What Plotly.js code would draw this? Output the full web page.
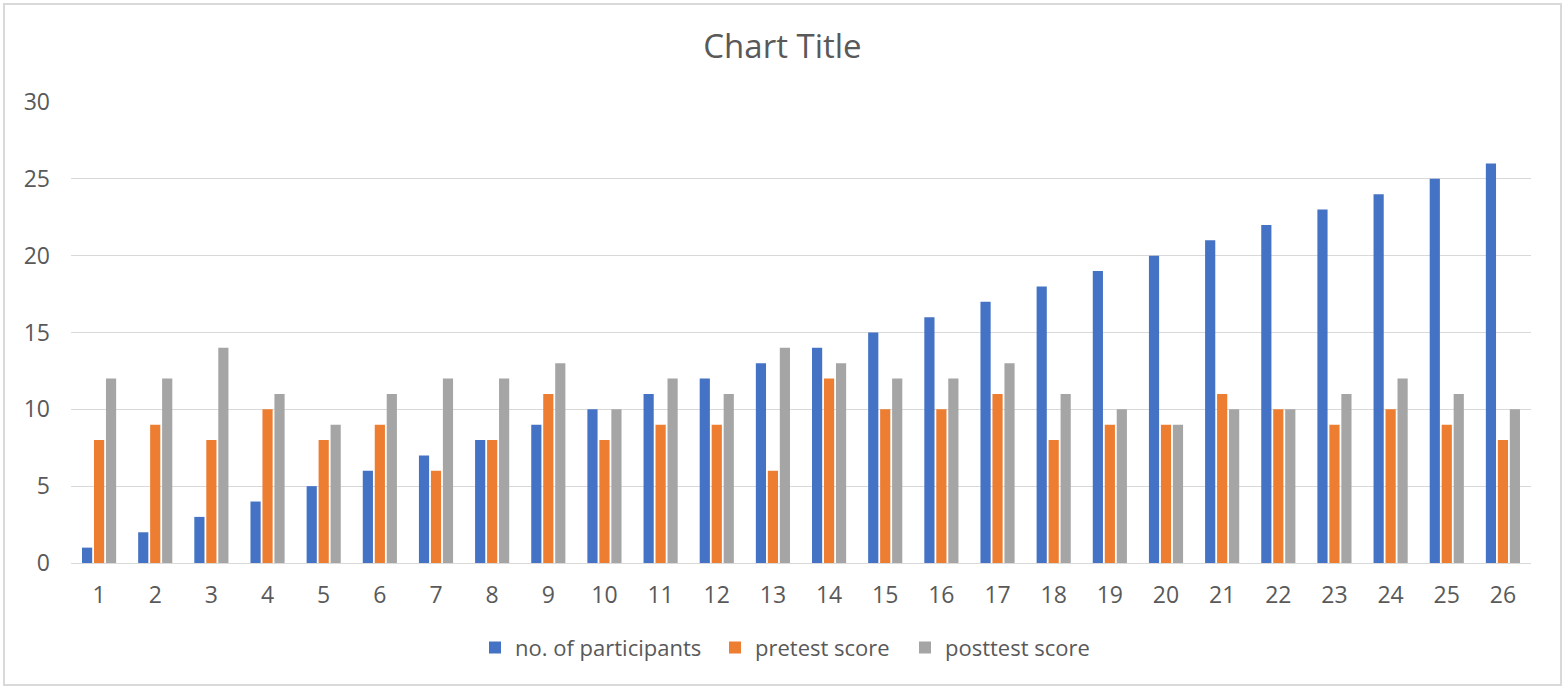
<!DOCTYPE html>
<html><head><meta charset="utf-8">
<script src="https://cdn.plot.ly/plotly-3.0.1.min.js"></script>
<style>
html,body{margin:0;padding:0;background:#fff;}
#chart{width:1565px;height:688px;}
#frame{position:absolute;left:3px;top:3px;width:1555px;height:679px;border:2px solid #d9d9d9;pointer-events:none;}
</style></head>
<body>
<div id="chart"></div>
<div id="frame"></div>
<script>
const categories = ["1","2","3","4","5","6","7","8","9","10","11","12","13","14","15","16","17","18","19","20","21","22","23","24","25","26"];
const participants = [1,2,3,4,5,6,7,8,9,10,11,12,13,14,15,16,17,18,19,20,21,22,23,24,25,26];
const pretest = [8,9,8,10,8,9,6,8,11,8,9,9,6,12,10,10,11,8,9,9,11,10,9,10,9,8];
const posttest = [12,12,14,11,9,11,12,12,13,10,12,11,14,13,12,12,13,11,10,9,10,10,11,12,11,10];
const seriesNames = ["no. of participants","pretest score","posttest score"];
const colors = ["#4472c4","#ed7d31","#a5a5a5"];
const legendIds = ["legend","legend2","legend3"];

const traces = [participants, pretest, posttest].map((vals,i)=>({
  type:'bar', x:categories, y:vals, name:seriesNames[i],
  marker:{color:colors[i]}, hoverinfo:'x+y+name', legend:legendIds[i]
}));

const font = {family:'"Open Sans", "Noto Sans", sans-serif', color:'#595959'};
// legend entry left positions (px) converted to paper fraction
const plotL = 71, plotW = 1460;
const legendLeftPx = [475, 715, 905];
function legendCfg(px){
  return {orientation:'h', x:(px-plotL)/plotW, xanchor:'left', y:-0.184, yanchor:'middle',
          font:{...font, size:22}, itemwidth:30, bgcolor:'rgba(0,0,0,0)'};
}
const layout = {
  width:1565, height:688,
  paper_bgcolor:'#ffffff', plot_bgcolor:'#ffffff',
  margin:{l:71, r:34, t:102, b:125},
  title:{text:'Chart Title', font:{...font, size:33}, x:0.5, xanchor:'center', y:0.932, yanchor:'middle'},
  barmode:'group', bargap:0.36, bargroupgap:0.15,
  xaxis:{type:'category', tickfont:{...font, size:23}, showgrid:false, zeroline:false,
         showline:true, linecolor:'#d9d9d9', linewidth:1, ticks:'', ticklabelstandoff:11},
  yaxis:{range:[0,30], dtick:5, tickfont:{...font, size:23}, gridcolor:'#d9d9d9', gridwidth:1,
         zeroline:false, showline:false, ticks:'', ticklabelstandoff:20},
  legend:legendCfg(legendLeftPx[0]),
  legend2:legendCfg(legendLeftPx[1]),
  legend3:legendCfg(legendLeftPx[2]),
  showlegend:true
};
Plotly.newPlot('chart', traces, layout, {displayModeBar:false, staticPlot:true});
</script>
</body></html>
